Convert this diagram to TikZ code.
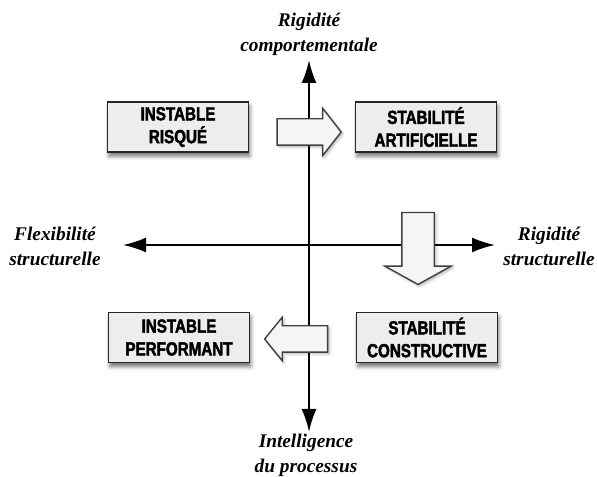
\documentclass[tikz,border=0pt]{standalone}
\usepackage{fontspec}
\setmainfont{Liberation Serif}
\newfontfamily\quadfont[FakeStretch=0.8, BoldFeatures={FakeBold=2.2}]{Liberation Sans}
\usetikzlibrary{arrows.meta,shapes.arrows,shadows.blur}

\begin{document}
\begin{tikzpicture}[
    >={Latex[length=0.46cm,width=0.3cm]},
    axis/.style={<->, line width=1.2pt},
    lbl/.style={align=center, inner sep=0pt, font=\fontsize{11}{14.5}\selectfont\bfseries\itshape},
    quad/.style={draw=black!85, line width=1pt, fill=black!7, minimum width=2.82cm, minimum height=1cm,
      align=center, inner sep=2pt, font=\quadfont\fontsize{10.8}{13}\selectfont\bfseries,
      blur shadow={shadow xshift=0.8pt, shadow yshift=-2.4pt, shadow blur radius=2.2pt, shadow opacity=55}},
    move/.style={single arrow, draw=black!75, line width=0.8pt, fill=black!4, inner xsep=0pt,
      blur shadow={shadow xshift=1pt, shadow yshift=-1pt, shadow blur radius=1.5pt, shadow opacity=30}}
  ]
    \useasboundingbox (0,0) rectangle (11.94,-9.54);

    % axes
    \coordinate (north) at (6.18,-1.20);
    \coordinate (south) at (6.18,-8.64);
    \coordinate (west)  at (2.46,-4.90);
    \coordinate (east)  at (9.90,-4.90);
    \draw[axis] (south) -- (north);
    \draw[axis] (west) -- (east);

    \node[lbl] (lnorth) at (6.18,-0.69) {Rigidité\\comportementale};
    \node[lbl] (lsouth) at (6.12,-9.11) {Intelligence\\du processus};
    \node[lbl] (lwest)  at (1.10,-4.93) {Flexibilité\\structurelle};
    \node[lbl] (least)  at (10.98,-4.93) {Rigidité\\structurelle};

    % quadrants
    \node[quad] (risq) at (3.56,-2.54) {INSTABLE\\RISQUÉ};
    \node[quad] (arti) at (8.52,-2.54) {STABILITÉ\\ARTIFICIELLE};
    \node[quad] (perf) at (3.58,-6.75) {INSTABLE\\PERFORMANT};
    \node[quad] (cons) at (8.54,-6.75) {STABILITÉ\\CONSTRUCTIVE};

    % transitions between quadrants
    \node[move, minimum height=1.28cm, inner ysep=0.25cm, single arrow head extend=0.21cm,
      single arrow tip angle=104] (m1) at (6.08,-2.64) {};
    \node[move, rotate=-90, minimum height=1.44cm, inner ysep=0.31cm, single arrow head extend=0.34cm,
      single arrow tip angle=122] (m2) at (8.36,-4.88) {};
    \node[move, rotate=180, minimum height=1.26cm, inner ysep=0.25cm, single arrow head extend=0.17cm,
      single arrow tip angle=102] (m3) at (6.03,-6.78) {};
\end{tikzpicture}
\end{document}
